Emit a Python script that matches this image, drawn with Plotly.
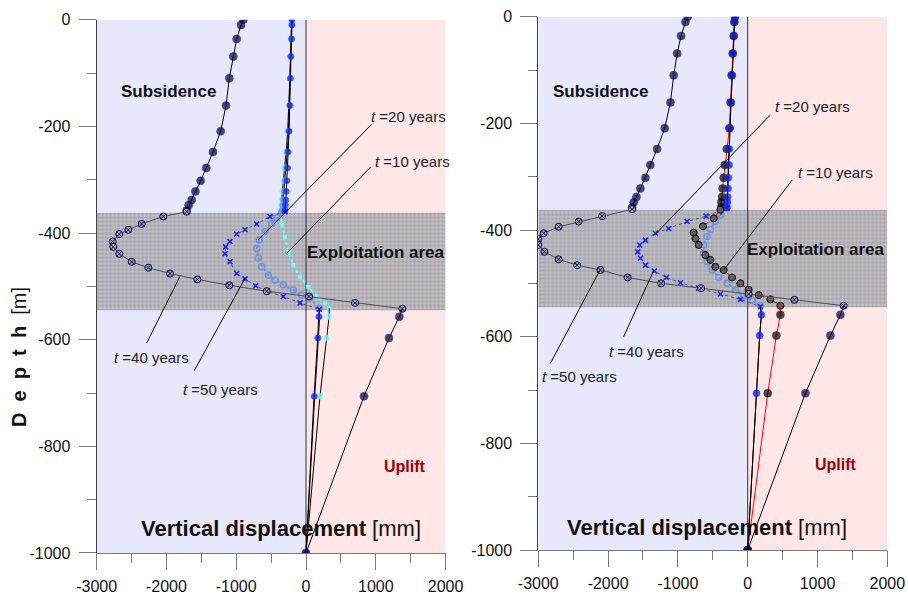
import plotly.graph_objects as go

# ---------------------------------------------------------------------------
# Depth sampling (m) of the profiles above and below the exploitation zone
# ---------------------------------------------------------------------------
UPPER_DEPTH = [0, -10, -36, -69, -110, -161, -209, -248, -278, -302, -322, -338, -348, -358]
LOWER_DEPTH_L = [-557, -597, -706, -1000]
LOWER_DEPTH_R = [-559, -598, -706, -1000]

ZONE_TOP, ZONE_BOTTOM = -362, -545
X_MIN, X_MID, X_MAX = -3000, 0, 2000
Y_MIN, Y_MAX = -1000, 0

X_TICKS = [-3000, -2000, -1000, 0, 1000, 2000]
X_TICK_TEXT = ["-3000", "-2000", "-1000", "0", "1000", "2000"]
Y_TICKS = [-1000, -800, -600, -400, -200, 0]
Y_TICK_TEXT = ["-1000", "-800", "-600", "-400", "-200", "0"]

# ---------------------------------------------------------------------------
# Left panel: vertical displacement (mm) profiles
# ---------------------------------------------------------------------------
L_A_UP = [-898, -931, -993, -1041, -1099, -1146, -1222, -1332, -1428, -1509, -1585, -1638, -1681, -1710]
L_A_ZX = [-1709, -2044, -2354, -2546, -2675, -2769, -2761, -2675, -2497, -2259, -1948, -1557, -1099, -563, 43, 702, 1380]
L_A_ZD = [-360, -369, -383, -394, -402, -416, -426, -439, -454, -465, -476, -487, -498, -509, -519, -531, -542]
L_A_LOW = [1337, 1189, 831, 0]

L_B_UP = [-200, -200, -205, -215, -222, -229, -242, -256, -263, -272, -282, -288, -293, -300]
L_B_ZX = [-300, -516, -706, -874, -993, -1089, -1150, -1160, -1089, -993, -874, -721, -563, -325, -86, 191]
L_B_ZD = [-360, -369, -383, -394, -402, -416, -426, -439, -454, -476, -486, -499, -509, -519, -531, -543]
L_B_LOW = [182, 167, 115, 0]

L_C_UP = [-205, -206, -211, -220, -228, -236, -250, -268, -285, -300, -315, -325, -335, -345]
L_C_ZX = [-348, -420, -491, -587, -669, -706, -683, -635, -540, -444, -325, -182, -62, 57, 186]
L_C_ZD = [-362, -372, -382, -397, -413, -429, -447, -463, -479, -488, -497, -507, -516, -522, -541]
L_C_LOW = [195, 178, 125, 0]

L_D_UP = [-205, -206, -212, -222, -232, -242, -262, -285, -310, -325, -339, -348, -358, -368]
L_D_ZX = [-372, -348, -301, -254, -182, -86, 33, 153, 272, 334]
L_D_ZD = [-362, -382, -407, -435, -460, -482, -501, -518, -532, -541]
L_D_LOW = [330, 296, 200, 0]

# ---------------------------------------------------------------------------
# Right panel: vertical displacement (mm) profiles
# ---------------------------------------------------------------------------
R_A_UP = [-860, -892, -954, -1011, -1060, -1107, -1189, -1298, -1394, -1466, -1537, -1594, -1633, -1656]
R_A_ZX = [-1656, -2086, -2421, -2708, -2923, -3000, -3000, -2913, -2708, -2444, -2110, -1719, -1241, -668, 14, 669, 1375]
R_A_ZD = [-361, -374, -384, -394, -406, -417, -428, -441, -455, -466, -475, -489, -500, -509, -520, -531, -542]
R_A_LOW = [1328, 1185, 827, 0]

R_B_UP = [-176, -186, -195, -209, -224, -238, -252, -262, -266, -276, -281, -287, -291, -295]
R_B_ZX = [-295, -596, -868, -1132, -1322, -1466, -1547, -1576, -1537, -1466, -1337, -1165, -964, -702, -391, -105, 182]
R_B_ZD = [-359, -374, -384, -397, -406, -419, -428, -441, -453, -466, -477, -489, -499, -509, -520, -530, -544]
R_B_LOW = [196, 172, 125, 0]

R_C_UP = [-182, -192, -201, -215, -230, -245, -262, -300, -329, -344, -358, -367, -377, -381]
R_C_ZX = [-391, -487, -640, -774, -749, -702, -606, -534, -463, -344, -224, -105, 14, 158, 325, 468]
R_C_ZD = [-362, -378, -393, -405, -416, -428, -447, -456, -469, -475, -489, -500, -512, -522, -530, -542]
R_C_LOW = [468, 411, 287, 0]

R_D_UP = [-180, -190, -199, -213, -228, -242, -256, -266, -271, -281, -286, -292, -296, -300]
R_D_ZX = [-391, -463, -534, -582, -630, -630, -582, -510, -415, -295, -176, -57, 63, 182]
R_D_ZD = [-372, -384, -399, -412, -428, -444, -459, -475, -489, -500, -512, -524, -531, -541]
R_D_LOW = [196, 172, 125, 0]

# Time labels: years, text anchor (x, depth), leader start (x, depth), leader end (x, depth)
L_T_YEARS = [20, 10, 40, 50]
L_T_TEXT = [(907, -182), (956, -265), (-2784, -633), (-1795, -694)]
L_T_FROM = [(941, -196), (927, -276), (-2282, -606), (-1600, -658)]
L_T_TO = [(-683, -413), (-276, -438), (-1805, -481), (-874, -485)]

R_T_YEARS = [20, 10, 40, 50]
R_T_TEXT = [(356, -169), (685, -293), (-2010, -627), (-2970, -674)]
R_T_FROM = [(325, -184), (638, -306), (-1777, -600), (-2827, -650)]
R_T_TO = [(-1308, -406), (-344, -475), (-1347, -476), (-2120, -476)]

# Region captions: (x, depth) per panel
SUBSIDENCE_POS = [(-1977, -135), (-2103, -141)]
EXPLOIT_POS = [(1003, -436), (985, -437)]
UPLIFT_POS = [(1418, -837), (1264, -839)]
XTITLE_POS = [(-358, -955), (-577, -958)]

# ---------------------------------------------------------------------------
NAVY = "#000046"
BLUE = "#1020ff"
CYAN = "#70ffff"
STEEL = "#6f94d8"
FONT = "Liberation Sans, Arial, sans-serif"

fig = go.Figure()


def add_profile(xa, ya, up, zx, zd, low, low_d, color, up_size, zone_marker, zone_line,
                line_color="black", low_color=None):
    low_color = low_color or color
    # part above the exploitation zone
    fig.add_trace(go.Scatter(
        x=up + [zx[0]], y=UPPER_DEPTH + [zd[0]], xaxis=xa, yaxis=ya, mode="lines+markers",
        line=dict(color=line_color, width=1),
        marker=dict(color=color, size=[up_size] * len(up) + [0], line=dict(color=color, width=0.6)),
        showlegend=False, hoverinfo="skip"))
    # part inside the exploitation zone
    fig.add_trace(go.Scatter(
        x=zx, y=zd, xaxis=xa, yaxis=ya, mode="lines+markers",
        line=zone_line, marker=zone_marker, showlegend=False, hoverinfo="skip"))
    # part below the exploitation zone
    fig.add_trace(go.Scatter(
        x=[zx[-1]] + low, y=[zd[-1]] + low_d, xaxis=xa, yaxis=ya, mode="lines+markers",
        line=dict(color=line_color, width=1),
        marker=dict(color=low_color, size=[0] + [up_size] * len(low),
                    line=dict(color=low_color, width=0.6)),
        showlegend=False, hoverinfo="skip"))


for xa, ya in (("x", "y"), ("x2", "y2")):
    # hatched exploitation zone
    fig.add_trace(go.Scatter(
        x=[X_MIN, X_MAX, X_MAX, X_MIN, X_MIN],
        y=[ZONE_TOP, ZONE_TOP, ZONE_BOTTOM, ZONE_BOTTOM, ZONE_TOP],
        xaxis=xa, yaxis=ya, mode="lines", line=dict(width=0),
        fill="toself", fillcolor="rgba(190,190,198,0.85)",
        fillpattern=dict(shape=".", size=4, solidity=0.6, fgcolor="#858585", fillmode="overlay"),
        showlegend=False, hoverinfo="skip"))
    # zero-displacement reference line
    fig.add_trace(go.Scatter(
        x=[X_MID, X_MID], y=[Y_MIN, Y_MAX], xaxis=xa, yaxis=ya, mode="lines",
        line=dict(color="#303030", width=1), showlegend=False, hoverinfo="skip"))

circle_x = dict(symbol="circle-x", size=7, color="#a8a8b8", line=dict(color=NAVY, width=1))
x_mark = dict(symbol="x-thin-open", size=5, color=BLUE, line=dict(color=BLUE, width=1.5))
gray_line = dict(color="#505050", width=1)

# left panel
add_profile("x", "y", L_D_UP, L_D_ZX, L_D_ZD, L_D_LOW, LOWER_DEPTH_L, CYAN, 6,
            dict(symbol="square", size=4, color=CYAN, line=dict(width=0)),
            dict(color=CYAN, width=2, dash="dot"))
add_profile("x", "y", L_C_UP, L_C_ZX, L_C_ZD, L_C_LOW, LOWER_DEPTH_L, STEEL, 6,
            dict(symbol="circle-open", size=6, color=STEEL, line=dict(color=STEEL, width=1.5)),
            dict(color=STEEL, width=2, dash="dot"))
add_profile("x", "y", L_B_UP, L_B_ZX, L_B_ZD, L_B_LOW, LOWER_DEPTH_L, BLUE, 6, x_mark,
            dict(color="#505070", width=1, dash="dot"))
add_profile("x", "y", L_A_UP, L_A_ZX, L_A_ZD, L_A_LOW, LOWER_DEPTH_L, NAVY, 8, circle_x, gray_line)

# right panel
add_profile("x2", "y2", R_D_UP, R_D_ZX, R_D_ZD, R_D_LOW, LOWER_DEPTH_R, STEEL, 6,
            dict(symbol="circle-open", size=6, color=STEEL, line=dict(color=STEEL, width=1.5)),
            dict(color=STEEL, width=2, dash="dot"))
add_profile("x2", "y2", R_C_UP, R_C_ZX, R_C_ZD, R_C_LOW, LOWER_DEPTH_R, "black", 8,
            dict(symbol="circle", size=7, color="#606060", line=dict(color="black", width=1)),
            dict(color="red", width=1, dash="dash"), line_color="red")
add_profile("x2", "y2", R_B_UP, R_B_ZX, R_B_ZD, R_B_LOW, LOWER_DEPTH_R, BLUE, 7, x_mark,
            dict(color="#505070", width=1, dash="dot"))
add_profile("x2", "y2", R_A_UP, R_A_ZX, R_A_ZD, R_A_LOW, LOWER_DEPTH_R, NAVY, 8, circle_x, gray_line)

shapes = []
annotations = []
for i, (xr, yr) in enumerate((("x", "y"), ("x2", "y2"))):
    shapes.append(dict(type="rect", xref=xr, yref=yr, x0=X_MIN, x1=X_MID, y0=Y_MIN, y1=Y_MAX,
                       fillcolor="#e8e8fd", line=dict(width=0), layer="below"))
    shapes.append(dict(type="rect", xref=xr, yref=yr, x0=X_MID, x1=X_MAX, y0=Y_MIN, y1=Y_MAX,
                       fillcolor="#ffe7e7", line=dict(width=0), layer="below"))
    years, texts, froms, tos = ((L_T_YEARS, L_T_TEXT, L_T_FROM, L_T_TO) if i == 0
                                else (R_T_YEARS, R_T_TEXT, R_T_FROM, R_T_TO))
    for yrs, (tx, td), (fx, fd), (ex, ed) in zip(years, texts, froms, tos):
        shapes.append(dict(type="line", xref=xr, yref=yr, x0=fx, y0=fd, x1=ex, y1=ed,
                           line=dict(color="black", width=1), layer="above"))
        annotations.append(dict(xref=xr, yref=yr, x=tx, y=td, xanchor="left", yanchor="middle",
                                text=f"<i>t</i> ={yrs} years", showarrow=False,
                                font=dict(family=FONT, size=15, color="#222")))
    sx, sd = SUBSIDENCE_POS[i]
    annotations.append(dict(xref=xr, yref=yr, x=sx, y=sd, text="<b>Subsidence</b>", showarrow=False,
                            font=dict(family=FONT, size=17, color="#111")))
    ex_, ed_ = EXPLOIT_POS[i]
    annotations.append(dict(xref=xr, yref=yr, x=ex_, y=ed_, text="<b>Exploitation area</b>",
                            showarrow=False, font=dict(family=FONT, size=17, color="#111")))
    ux, ud = UPLIFT_POS[i]
    annotations.append(dict(xref=xr, yref=yr, x=ux, y=ud, text="<b>Uplift</b>", showarrow=False,
                            font=dict(family=FONT, size=16, color="#a00000")))
    vx, vd = XTITLE_POS[i]
    annotations.append(dict(xref=xr, yref=yr, x=vx, y=vd,
                            text="<b>Vertical displacement</b> [mm]", showarrow=False,
                            font=dict(family=FONT, size=22, color="#111")))

annotations.append(dict(xref="paper", yref="paper", x=19 / 908, y=1 - 357 / 598, textangle=-90,
                        text="<b>D\u00a0\u00a0e\u00a0\u00a0p\u00a0\u00a0t\u00a0\u00a0h</b>\u00a0\u00a0[m]",
                        showarrow=False, xanchor="center", yanchor="middle",
                        font=dict(family=FONT, size=20, color="#111")))

xaxis_common = dict(range=[X_MIN, X_MAX], tickvals=X_TICKS, ticktext=X_TICK_TEXT, automargin=False,
                    ticks="outside", ticklen=16, tickcolor="#7a7a7a", tickwidth=1,
                    minor=dict(dtick=500, ticks="outside", ticklen=9, tickcolor="#7a7a7a", showgrid=False),
                    showline=True, linecolor="#7a7a7a", linewidth=1, showgrid=False, zeroline=False,
                    ticklabelstandoff=3, tickfont=dict(family=FONT, size=16, color="#111"))
yaxis_common = dict(range=[Y_MIN, Y_MAX], tickvals=Y_TICKS, ticktext=Y_TICK_TEXT, automargin=False,
                    ticks="outside", ticklen=17, tickcolor="#7a7a7a", tickwidth=1,
                    minor=dict(dtick=100, ticks="outside", ticklen=9, tickcolor="#7a7a7a", showgrid=False),
                    showline=True, linecolor="#404040", linewidth=1, showgrid=False, zeroline=False,
                    ticklabelstandoff=5, tickfont=dict(family=FONT, size=16, color="#111"))

fig.update_layout(
    width=908, height=598, margin=dict(l=0, r=0, t=0, b=0),
    paper_bgcolor="white", plot_bgcolor="rgba(0,0,0,0)",
    xaxis=dict(domain=[0.10639, 0.49075], anchor="y", **xaxis_common),
    yaxis=dict(domain=[0.07525, 0.96706], anchor="x", **yaxis_common),
    xaxis2=dict(domain=[0.59284, 0.97720], anchor="y2", **xaxis_common),
    yaxis2=dict(domain=[0.08027, 0.97207], anchor="x2", **yaxis_common),
    shapes=shapes, annotations=annotations,
)

fig.write_html("out.html")
